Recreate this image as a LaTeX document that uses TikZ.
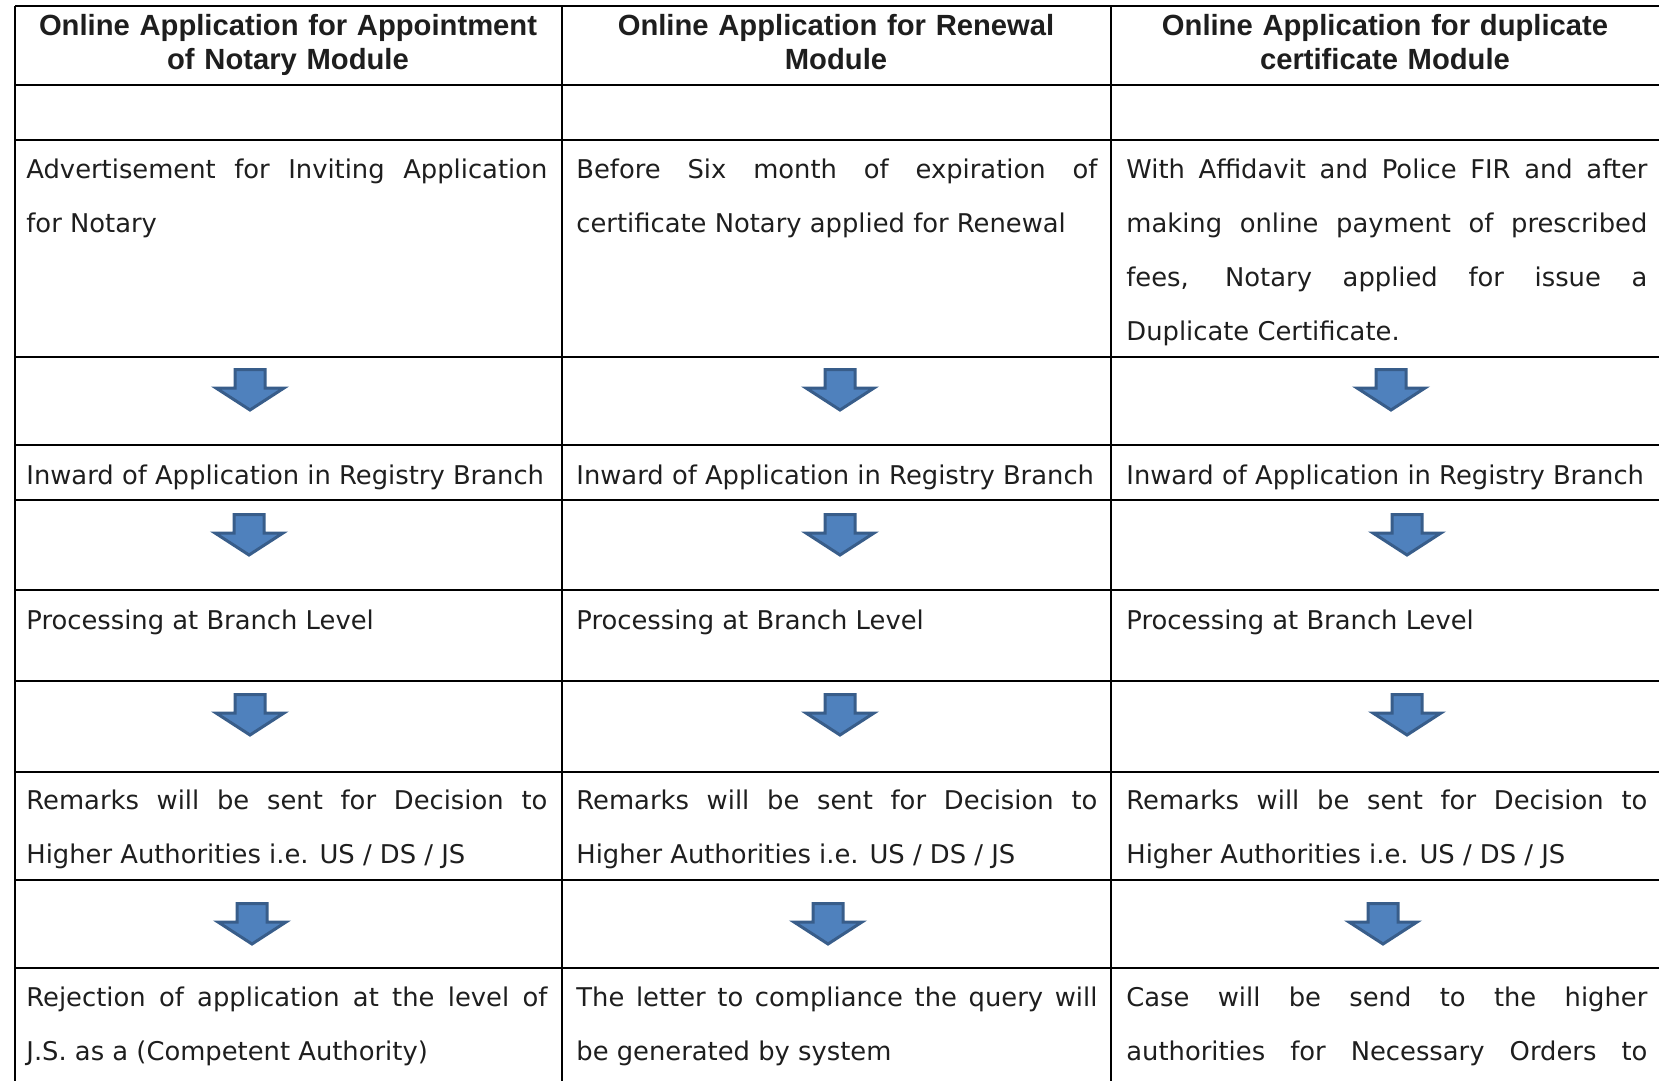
\documentclass[tikz,border=0pt]{standalone}
\usepackage{fontspec}
\setmainfont{DejaVu Sans}
\newfontfamily\headfont{Liberation Sans}
\hyphenpenalty=10000
\exhyphenpenalty=10000
\definecolor{arrowfill}{RGB}{79,129,189}
\definecolor{arrowedge}{RGB}{56,93,138}
\definecolor{ink}{RGB}{30,30,30}
% fixes the height of the first line so every cell starts on the same baseline
\newcommand\firststrut{\rule{0pt}{14pt}}
% ends a paragraph with its last line justified too
\newcommand\fullpar{\unskip\parfillskip=0pt\par}
\tikzset{
  grid/.style={line width=1.1pt, black},
  headcell/.style={anchor=north, inner sep=0pt, text width=270pt, align=center,
    font=\headfont\bfseries\fontsize{14.6}{17}\selectfont, text=ink},
  cell/.style={anchor=north west, inner sep=0pt, text width=260.5pt, align=justify,
    font=\fontsize{12.9}{27}\selectfont, text=ink},
  pics/downarrow/.style={code={
    \draw[arrowedge, fill=arrowfill, line width=1.5pt, line join=miter]
      (-15,1.5) -- (15,1.5) -- (15,20) -- (34,20) -- (0,42) -- (-34,20) -- (-15,20) -- cycle;}}
}
\begin{document}
\begin{tikzpicture}[x=0.5pt, y=-0.5pt]
\useasboundingbox (0,0) rectangle (1659,1081);

% table rules
\foreach \yy in {6,85,140,357,445,500,590,681,772,880,968}
  \draw[grid] (15,\yy) -- (1659,\yy);
\foreach \xx in {15,562,1111}
  \draw[grid] (\xx,6) -- (\xx,1081);

% column headings
\node[headcell] (h1) at (288,7) {\firststrut Online Application for Appointment\\of Notary Module};
\node[headcell] (h2) at (836,7) {\firststrut Online Application for Renewal\\Module};
\node[headcell] (h3) at (1385,7) {\firststrut Online Application for duplicate\\certificate Module};

% first step
\node[cell] (a1) at (26,150.5) {\firststrut Advertisement for Inviting Application\linebreak for Notary};
\node[cell] (b1) at (576,150.5) {\firststrut Before Six month of expiration of\linebreak certificate Notary applied for Renewal};
\node[cell] (c1) at (1126,150.5) {\firststrut With Affidavit and Police FIR and after\linebreak making online payment of prescribed\linebreak fees, Notary applied for issue a\linebreak Duplicate Certificate.};

% second step
\node[cell] (a2) at (26,456) {\firststrut Inward of Application in Registry Branch};
\node[cell] (b2) at (576,456) {\firststrut Inward of Application in Registry Branch};
\node[cell] (c2) at (1126,456) {\firststrut Inward of Application in Registry Branch};

% third step
\node[cell] (a3) at (26,601) {\firststrut Processing at Branch Level};
\node[cell] (b3) at (576,601) {\firststrut Processing at Branch Level};
\node[cell] (c3) at (1126,601) {\firststrut Processing at Branch Level};

% fourth step
\node[cell] (a4) at (26,781.5) {\firststrut Remarks will be sent for Decision to\linebreak Higher Authorities i.e. US / DS / JS};
\node[cell] (b4) at (576,781.5) {\firststrut Remarks will be sent for Decision to\linebreak Higher Authorities i.e. US / DS / JS};
\node[cell] (c4) at (1126,781.5) {\firststrut Remarks will be sent for Decision to\linebreak Higher Authorities i.e. US / DS / JS};

% fifth step
\node[cell] (a5) at (26,978.5) {\firststrut Rejection of application at the level of\linebreak J.S. as a (Competent Authority)};
\node[cell] (b5) at (576,978.5) {\firststrut The letter to compliance the query will\linebreak be generated by system};
\node[cell] (c5) at (1126,978.5) {\firststrut Case will be send to the higher\linebreak authorities for Necessary Orders to\fullpar};

% flow arrows between the steps
\pic at (250,368) {downarrow};
\pic at (840,368) {downarrow};
\pic at (1391,368) {downarrow};

\pic at (249,513) {downarrow};
\pic at (840,513) {downarrow};
\pic at (1407,513) {downarrow};

\pic at (250,693) {downarrow};
\pic at (840,693) {downarrow};
\pic at (1407,693) {downarrow};

\pic at (252,902) {downarrow};
\pic at (828,902) {downarrow};
\pic at (1383,902) {downarrow};
\end{tikzpicture}
\end{document}
